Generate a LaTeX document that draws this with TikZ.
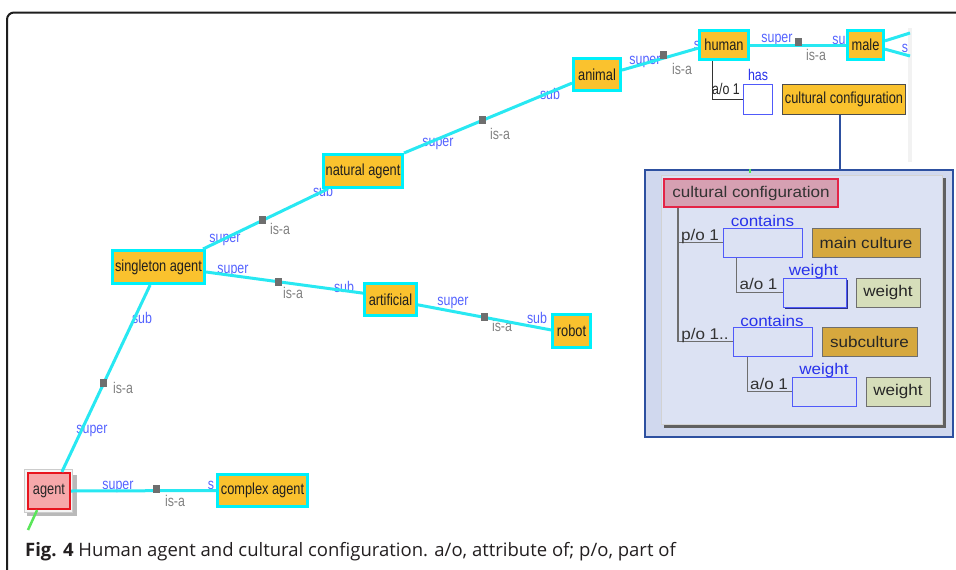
\documentclass[tikz,border=0pt]{standalone}
\usepackage{fontspec}
\setmainfont{Open Sans}
\newfontfamily\graphfont[FakeStretch=0.8]{Liberation Sans}
\newfontfamily\panelfont[FakeStretch=1.1]{Liberation Sans}
\usetikzlibrary{calc}
\pgfdeclarelayer{background}
\pgfsetlayers{background,main}

\definecolor{frameink}{RGB}{30,30,30}
\definecolor{conceptfill}{RGB}{250,194,46}
\definecolor{conceptrim}{RGB}{0,240,250}
\definecolor{isaline}{RGB}{40,232,242}
\definecolor{rolelabel}{RGB}{85,100,255}
\definecolor{isagray}{RGB}{130,130,130}
\definecolor{markgray}{RGB}{110,110,110}
\definecolor{agentfill}{RGB}{246,168,170}
\definecolor{agentrim}{RGB}{232,20,30}
\definecolor{panelouter}{RGB}{208,216,238}
\definecolor{panelinner}{RGB}{220,226,243}
\definecolor{panelrim}{RGB}{45,80,160}
\definecolor{slotblue}{RGB}{80,90,250}
\definecolor{slotlabel}{RGB}{40,50,235}
\definecolor{rootfill}{RGB}{214,160,178}
\definecolor{rootrim}{RGB}{228,36,70}
\definecolor{goldfill}{RGB}{214,168,62}
\definecolor{sagefill}{RGB}{214,222,186}
\definecolor{boxrim}{RGB}{110,110,110}
\definecolor{treeline}{RGB}{110,110,110}
\definecolor{captionink}{RGB}{35,31,32}
\definecolor{linkgreen}{RGB}{90,230,90}

\tikzset{
  concept/.style={draw=conceptrim, line width=3pt, fill=conceptfill, inner sep=0pt,
    text=black!88, font=\graphfont\fontsize{16}{18}\selectfont},
  isaedge/.style={draw=isaline, line width=3pt},
  isamark/.style={fill=markgray, minimum width=7pt, minimum height=8pt, inner sep=0pt},
  role/.style={text=rolelabel, font=\graphfont\fontsize{15.5}{17}\selectfont, inner sep=0pt},
  isatext/.style={text=isagray, font=\graphfont\fontsize{15.5}{17}\selectfont, inner sep=0pt},
  slot/.style={draw=slotblue, line width=1pt, fill=panelinner, inner sep=0pt},
  slottext/.style={text=slotlabel, font=\panelfont\fontsize{15.5}{17}\selectfont, inner sep=0pt},
  valbox/.style={draw=boxrim, line width=1pt, inner sep=0pt, text=black!85,
    font=\panelfont\fontsize{15.5}{17}\selectfont},
  card/.style={text=black!80, font=\panelfont\fontsize{15.5}{17}\selectfont, inner sep=0pt},
  tree/.style={draw=treeline, line width=1.3pt},
}

\begin{document}
\begin{tikzpicture}[x=1pt,y=-1pt]
\useasboundingbox (0,0) rectangle (956,570);
\begin{pgfonlayer}{background}
\fill[white] (0,0) rectangle (956,570);
\end{pgfonlayer}

% outer frame
\draw[frameink, line width=2pt, rounded corners=7pt] (7,572) -- (7,12.5) -- (958,12.5);

% edge of the editor canvas
\fill[gray!10] (908,28) rectangle (912,162);

% concepts of the taxonomy
\node[concept, minimum width=49pt, minimum height=29pt] (human) at (724,45) {human};
\node[concept, minimum width=36pt, minimum height=29pt] (male) at (865.5,45) {male};
\node[concept, minimum width=47pt, minimum height=32pt] (animal) at (597,74.5) {animal};
\node[concept, minimum width=79pt, minimum height=33pt] (natural) at (363,171) {natural agent};
\node[concept, minimum width=92pt, minimum height=33pt] (single) at (158.5,267) {singleton agent};
\node[concept, minimum width=52pt, minimum height=32pt] (artificial) at (390.5,299.5) {artificial};
\node[concept, minimum width=38pt, minimum height=33pt] (robot) at (571.5,331) {robot};
\node[concept, minimum width=90pt, minimum height=32pt] (complex) at (262.5,490.5) {complex agent};

% root concept with its raised frame
\node[fill=gray!55, minimum width=50pt, minimum height=41pt, inner sep=0pt] (agentshadow) at (52,495.5) {};
\node[fill=gray!8, draw=gray!40, line width=.8pt, minimum width=48pt, minimum height=43pt, inner sep=0pt] (agentframe) at (48.5,491) {};
\node[draw=agentrim, line width=2.2pt, fill=agentfill, minimum width=42pt, minimum height=36pt,
  inner sep=0pt, text=black!85, font=\graphfont\fontsize{16}{18}\selectfont] (agent) at (49,491) {agent};

% is-a links
\draw[isaedge] (agent.56) -- node[isamark, pos=.476] (m1) {} (single.245);
\draw[isaedge] (agent.east) -- node[isamark, pos=.59, yshift=2pt] (m2) {} (complex.west);
\draw[isaedge] (single.22) -- node[isamark, pos=.48] (m3) {} (natural.207);
\draw[isaedge] (single.354) -- node[isamark, pos=.46] (m4) {} (artificial.167);
\draw[isaedge] (artificial.349) -- node[isamark, pos=.5] (m5) {} (robot.177);
\draw[isaedge] (natural.north east) -- node[isamark, pos=.47] (m6) {} (animal.199);
\draw[isaedge] (animal.10) -- node[isamark, pos=.54, yshift=3pt] (m7) {} (human.187);
\draw[isaedge] (human.east) -- node[isamark, pos=.5, yshift=3pt] (m8) {} (male.west);
\coordinate (offA) at (910,33);
\coordinate (offB) at (910,56);
\draw[isaedge] (male.12) -- (offA);
\draw[isaedge] (male.-12) -- (offB);

% green link leaving the root
\coordinate (gend) at (28,530);
\draw[linkgreen, line width=2.5pt] (agent.238) -- (gend);

% role and relation labels
\begin{pgfonlayer}{background}
\node[role] (r1a) at (92,431) {super};
\node[role] (r1b) at (142,318) {sub};
\node[isatext] (t1) at (123,388) {is-a};
\node[role] (r2a) at (118,487) {super};
\node[role] (r2b) at (211,485) {s};
\node[isatext] (t2) at (175,501) {is-a};
\node[role] (r3a) at (225,240) {super};
\node[role] (r3b) at (323,191) {sub};
\node[isatext] (t3) at (280,229) {is-a};
\node[role] (r4a) at (233,271) {super};
\node[role] (r4b) at (344,287) {sub};
\node[isatext] (t4) at (293,293) {is-a};
\node[role] (r5a) at (453,303) {super};
\node[role] (r5b) at (537,318) {sub};
\node[isatext] (t5) at (502,326) {is-a};
\node[role] (r6a) at (438,144) {super};
\node[role] (r6b) at (550,94) {sub};
\node[isatext] (t6) at (500,134) {is-a};
\node[role] (r7a) at (645,62) {super};
\node[role] (r7b) at (697,45) {s};
\node[isatext] (t7) at (682,69) {is-a};
\node[role] (r8a) at (777,40) {super};
\node[role] (r8b) at (839,40) {su};
\node[isatext] (t8) at (816,55) {is-a};
\node[role] (r9) at (905,48) {s};
\end{pgfonlayer}

% attribute of human
\node[draw=slotblue, line width=1.2pt, fill=white, minimum width=29pt, minimum height=30pt, inner sep=0pt] (hasbox) at (758,99.5) {};
\node[role, text=slotlabel] (haslabel) at (758,75) {has};
\draw[black!80, line width=1pt] ($(human.south west)+(14,0)$) |- (hasbox.west);
\node[text=black!85, font=\graphfont\fontsize{15.5}{17}\selectfont, inner sep=0pt] (ao0) at (726,89) {a/o 1};
\node[draw=black!70, line width=1pt, fill=conceptfill, minimum width=123pt, minimum height=30pt,
  inner sep=0pt, text=black!88, font=\graphfont\fontsize{16}{18}\selectfont] (cctop) at (844,99.5) {cultural configuration};

% expanded cultural configuration
\node[fill=panelouter, draw=panelrim, line width=2pt, minimum width=308pt, minimum height=267pt, inner sep=0pt] (panel) at (799,303.5) {};
\coordinate (link) at ($(cctop.south)+(-4,0)$);
\draw[panelrim, line width=2pt] (link) -- (link |- panel.north);
\draw[linkgreen, line width=1.5pt] (750,169) -- (750,173);
\node[fill=gray!75!black, minimum width=282pt, minimum height=250pt, inner sep=0pt] (innershadow) at (804.5,302.5) {};
\node[fill=panelinner, draw=gray!35, line width=.6pt, minimum width=281pt, minimum height=249pt, inner sep=0pt] (inner) at (802,300) {};

\node[fill=rootfill, draw=rootrim, line width=2pt, minimum width=174pt, minimum height=28pt, inner sep=0pt,
  text=black!80, font=\panelfont\fontsize{15.5}{17}\selectfont] (root) at (751,193) {cultural configuration};

\node[slot, minimum width=79pt, minimum height=29pt] (cont1) at (762.5,242.5) {};
\node[valbox, fill=goldfill, minimum width=108pt, minimum height=29pt] (maincult) at (866,242.5) {main culture};
\node[fill=slotblue!55!black, minimum width=63pt, minimum height=29pt, inner sep=0pt] (wt1shadow) at (816.5,294.5) {};
\node[slot, minimum width=63pt, minimum height=29pt] (wt1) at (814.5,292.5) {};
\node[valbox, fill=sagefill, minimum width=64pt, minimum height=29pt] (weight1) at (888,292.5) {weight};
\node[slot, minimum width=79pt, minimum height=29pt] (cont2) at (772.5,341.5) {};
\node[valbox, fill=goldfill, minimum width=95pt, minimum height=29pt] (subcult) at (869.5,341.5) {subculture};
\node[slot, minimum width=64pt, minimum height=29pt] (wt2) at (824,391.5) {};
\node[valbox, fill=sagefill, minimum width=64pt, minimum height=29pt] (weight2) at (898,391.5) {weight};

\coordinate (rootfoot) at ($(root.south west)+(15,0)$);
\draw[tree] (rootfoot) |- (cont1.west);
\draw[tree] (rootfoot) |- (cont2.west);
\draw[tree] ($(cont1.south west)+(14,0)$) |- (wt1.west);
\draw[tree] ($(cont2.south west)+(15,0)$) |- (wt2.west);

\node[card] (po1) at (700,236) {p/o 1};
\node[card] (po2) at (705,335) {p/o 1..};
\node[card] (ao1) at (758.5,284) {a/o 1};
\node[card] (ao2) at (769,384) {a/o 1};
\node[slottext] (lc1) at (762.5,221) {contains};
\node[slottext] (lw1) at (813.5,271) {weight};
\node[slottext] (lc2) at (772,321) {contains};
\node[slottext] (lw2) at (824,370) {weight};

% caption
\node[anchor=base west, inner sep=0pt, text=captionink, font=\fontsize{18.5}{21}\selectfont] (caption) at (25,556)
  {\textbf{Fig. 4} Human agent and cultural configuration. a/o, attribute of; p/o, part of};
\end{tikzpicture}
\end{document}
